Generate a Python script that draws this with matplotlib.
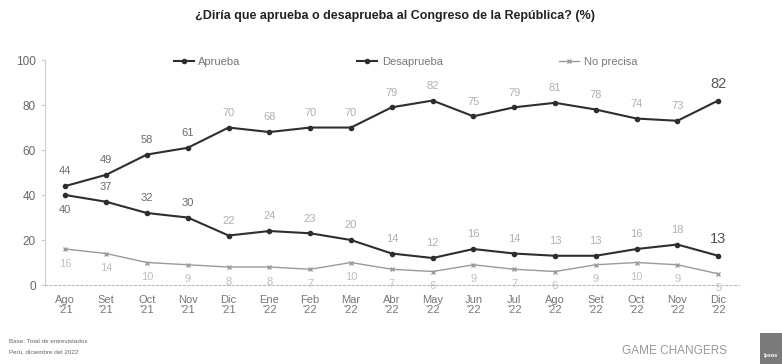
import matplotlib.pyplot as plt
from matplotlib.patches import Rectangle

plt.rcParams["font.family"] = ["Liberation Sans", "DejaVu Sans"]

months = ["Ago\n'21", "Set\n'21", "Oct\n'21", "Nov\n'21", "Dic\n'21", "Ene\n'22",
          "Feb\n'22", "Mar\n'22", "Abr\n'22", "May\n'22", "Jun\n'22", "Jul\n'22",
          "Ago\n'22", "Set\n'22", "Oct\n'22", "Nov\n'22", "Dic\n'22"]
aprueba = [40, 37, 32, 30, 22, 24, 23, 20, 14, 12, 16, 14, 13, 13, 16, 18, 13]
desaprueba = [44, 49, 58, 61, 70, 68, 70, 70, 79, 82, 75, 79, 81, 78, 74, 73, 82]
no_precisa = [16, 14, 10, 9, 8, 8, 7, 10, 7, 6, 9, 7, 6, 9, 10, 9, 5]

x = list(range(len(months)))
n = len(x)

fig = plt.figure(figsize=(7.82, 3.64), dpi=100)
ax = fig.add_axes([0.0575, 0.217, 0.887, 0.618])

ax.plot(x, aprueba, color="#2e2e2e", lw=1.5, marker="o", ms=3, label="Aprueba")
ax.plot(x, desaprueba, color="#2e2e2e", lw=1.5, marker="o", ms=3, label="Desaprueba")
ax.plot(x, no_precisa, color="#9a9a9a", lw=1.0, marker="x", ms=3, label="No precisa")


def label_color(i):
    # the scan fades from left to right
    return "#6a6a6a" if i < 4 else "#b0b0b0"


for i in range(n):
    last = i == n - 1
    fs = 10.5 if last else 8
    # desaprueba labels above the points
    ax.annotate(str(desaprueba[i]), (x[i], desaprueba[i]), xytext=(0, 7),
                textcoords="offset points", ha="center", va="bottom",
                fontsize=fs, color="#555555" if last else label_color(i))
    # aprueba: first label below, others above
    off = -7 if i == 0 else 7
    ax.annotate(str(aprueba[i]), (x[i], aprueba[i]), xytext=(0, off),
                textcoords="offset points", ha="center",
                va="top" if i == 0 else "bottom",
                fontsize=fs, color="#555555" if last else label_color(i))
    # no precisa labels below the points
    ax.annotate(str(no_precisa[i]), (x[i], no_precisa[i]), xytext=(0, -7),
                textcoords="offset points", ha="center", va="top",
                fontsize=8, color="#c0c0c0")

ax.set_xlim(-0.5, n - 0.5)
ax.set_ylim(0, 100)
ax.set_yticks([0, 20, 40, 60, 80, 100])
ax.set_xticks(x)
ax.set_xticklabels(months, fontsize=8, color="#777777", linespacing=1.0)
ax.tick_params(axis="y", labelsize=8.5, colors="#666666", length=3, color="#cccccc")
ax.tick_params(axis="x", length=0, pad=7)
for s in ("top", "right"):
    ax.spines[s].set_visible(False)
ax.spines["left"].set_color("#cccccc")
ax.spines["bottom"].set_color("#bbbbbb")
ax.spines["bottom"].set_linestyle((0, (2, 2)))

ax.legend(loc="upper center", bbox_to_anchor=(0.52, 1.06), ncol=3, frameon=False,
          fontsize=8, columnspacing=10.5, handlelength=1.8, handletextpad=0.4,
          labelcolor="#777777")

fig.text(0.505, 0.955, "¿Diría que aprueba o desaprueba al Congreso de la República? (%)",
         ha="center", va="center", fontsize=9, fontweight="bold", color="#222222")

fig.text(0.012, 0.058, "Base: Total de entrevistados", fontsize=4.5, color="#666666")
fig.text(0.012, 0.030, "Perú, diciembre del 2022", fontsize=4.5, color="#666666")
fig.text(0.795, 0.035, "GAME CHANGERS", fontsize=8.5, color="#999999", va="center")

fig.patches.append(Rectangle((0.972, 0.0), 0.028, 0.085, transform=fig.transFigure,
                             facecolor="#7a7a7a", edgecolor="none"))
fig.text(0.986, 0.018, "Ipsos", fontsize=4, color="white", ha="center",
         fontweight="bold")

fig.savefig("out.png", dpi=100)
